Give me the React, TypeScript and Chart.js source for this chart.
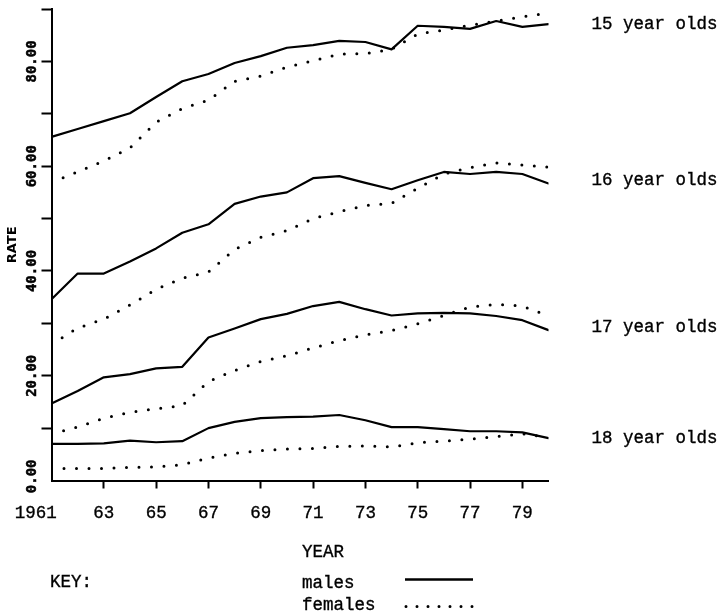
import { useEffect, useRef } from 'react';
import { Chart, registerables } from 'chart.js';

Chart.register(...registerables);

// ---- data ----
const years = [1961, 1962, 1963, 1964, 1965, 1966, 1967, 1968, 1969, 1970, 1971, 1972, 1973, 1974, 1975, 1976, 1977, 1978, 1979, 1980];

const males15 = [65.6, 67.1, 68.6, 70.1, 73.2, 76.2, 77.6, 79.7, 81.0, 82.6, 83.1, 83.9, 83.7, 82.3, 86.8, 86.6, 86.2, 87.7, 86.6, 87.1];
const females15 = [56.9, 58.9, 61.0, 63.5, 68.4, 71.0, 72.6, 76.2, 77.2, 78.9, 80.1, 81.4, 81.5, 82.3, 85.2, 86.0, 86.9, 87.7, 88.5, 89.2];

const males16 = [34.6, 39.5, 39.5, 41.8, 44.3, 47.3, 48.9, 52.8, 54.2, 55.0, 57.7, 58.1, 56.8, 55.6, 57.3, 58.9, 58.5, 58.9, 58.5, 56.7];
const females16 = [26.0, 29.1, 30.8, 33.5, 36.5, 38.6, 39.8, 44.1, 46.4, 47.7, 50.0, 51.3, 52.5, 52.9, 55.8, 58.5, 59.7, 60.6, 60.2, 59.8];

const males17 = [14.7, 17.1, 19.7, 20.3, 21.4, 21.7, 27.3, 29.0, 30.8, 31.8, 33.3, 34.1, 32.7, 31.5, 31.9, 32.0, 31.9, 31.4, 30.6, 28.7];
const females17 = [8.9, 10.2, 11.9, 13.0, 13.7, 14.3, 18.9, 21.0, 22.7, 23.8, 25.3, 26.7, 27.8, 28.6, 29.9, 31.5, 33.1, 33.6, 33.3, 31.4];

const males18 = [7.0, 7.0, 7.1, 7.6, 7.3, 7.5, 10.0, 11.2, 11.9, 12.1, 12.2, 12.5, 11.5, 10.2, 10.2, 9.8, 9.4, 9.4, 9.2, 8.1];
const females18 = [2.3, 2.3, 2.3, 2.5, 2.6, 3.0, 4.3, 5.2, 5.7, 6.0, 6.1, 6.5, 6.6, 6.4, 7.2, 7.5, 7.9, 8.4, 8.9, 8.2];

const xTickValues = [1961, 1963, 1965, 1967, 1969, 1971, 1973, 1975, 1977, 1979];
const xTickLabels = ['1961', '63', '65', '67', '69', '71', '73', '75', '77', '79'];
const yTickValues = [0, 10, 20, 30, 40, 50, 60, 70, 80, 90];
const yTickLabels = ['0.00', '', '20.00', '', '40.00', '', '60.00', '', '80.00', ''];

const ageLabels = ['15 year olds', '16 year olds', '17 year olds', '18 year olds'];
const ageLabelValues = [86.1, 56.4, 28.4, 7.1];
const keyLabels = ['males', 'females'];
const xTitle = 'YEAR';
const yTitle = 'RATE';
const keyTitle = 'KEY:';

const maleSeries = [males15, males16, males17, males18];
const femaleSeries = [females15, females16, females17, females18];

// ---- styles ----
const INK = '#000000';
const NONE = 'rgba(0,0,0,0)';
const TYPE_FONT = '"Liberation Mono", "Courier New", monospace';
const TEXT_STROKE = 0.35;
const maleStyle = { borderColor: INK, borderWidth: 2.2, borderJoinStyle: 'round' as const, borderCapStyle: 'round' as const };
const femaleStyle = { borderColor: INK, borderWidth: 3, borderDash: [0, 12.5], borderCapStyle: 'round' as const };

function toPoints(vals: number[]) {
  return years.map((yr, i) => ({ x: yr, y: vals[i] }));
}

function typeText(ctx: CanvasRenderingContext2D, t: string, x: number, y: number) {
  ctx.fillText(t, x, y);
  ctx.strokeText(t, x, y);
}

const annotate = {
  id: 'annotate',
  afterDraw(chart: any) {
    const { ctx, chartArea, scales } = chart;
    ctx.save();
    ctx.fillStyle = INK;
    ctx.strokeStyle = INK;
    ctx.lineWidth = TEXT_STROKE;
    ctx.font = `17.5px ${TYPE_FONT}`;
    ctx.textAlign = 'left';
    ctx.textBaseline = 'alphabetic';
    ageLabels.forEach((t, i) => {
      typeText(ctx, t, chartArea.right + 43, scales.y.getPixelForValue(ageLabelValues[i]));
    });
    typeText(ctx, xTitle, 302, 557);
    typeText(ctx, keyTitle, 50, 587);
    typeText(ctx, keyLabels[0], 302, 588);
    typeText(ctx, keyLabels[1], 302, 610);

    ctx.lineWidth = 2.5;
    ctx.lineCap = 'butt';
    ctx.beginPath();
    ctx.moveTo(405, 579.5);
    ctx.lineTo(473, 579.5);
    ctx.stroke();

    ctx.lineWidth = 3;
    ctx.lineCap = 'round';
    ctx.setLineDash([0, 11]);
    ctx.beginPath();
    ctx.moveTo(406, 606.5);
    ctx.lineTo(473, 606.5);
    ctx.stroke();
    ctx.restore();
  },
};

export default function App() {
  const ref = useRef<HTMLCanvasElement | null>(null);

  useEffect(() => {
    if (!ref.current) return;
    const datasets: any[] = [];
    maleSeries.forEach((vals, i) => {
      datasets.push({ label: `${ageLabels[i]} ${keyLabels[0]}`, data: toPoints(vals), ...maleStyle, pointRadius: 0, fill: false, tension: 0 });
      datasets.push({ label: `${ageLabels[i]} ${keyLabels[1]}`, data: toPoints(femaleSeries[i]), ...femaleStyle, pointRadius: 0, fill: false, tension: 0 });
    });

    const chart = new Chart(ref.current, {
      type: 'line',
      data: { datasets },
      plugins: [annotate],
      options: {
        animation: false,
        responsive: false,
        devicePixelRatio: 1,
        layout: { padding: { top: 9, right: 179.5, bottom: 0, left: 0 } },
        plugins: { legend: { display: false }, tooltip: { enabled: false }, title: { display: false } },
        scales: {
          x: {
            type: 'linear',
            min: years[0],
            max: years[years.length - 1],
            afterBuildTicks: (s: any) => { s.ticks = xTickValues.map((v) => ({ value: v })); },
            afterFit: (s: any) => { s.height = 135.5; s.paddingLeft = 0; s.paddingRight = 0; },
            border: { display: true, color: INK, width: 2 },
            grid: {
              display: true,
              drawOnChartArea: false,
              drawTicks: true,
              tickLength: 8,
              tickWidth: 2,
              tickColor: (c: any) => (c.tick && c.tick.value === years[0] ? NONE : INK),
            },
            ticks: {
              autoSkip: false,
              minRotation: 0,
              maxRotation: 0,
              padding: 14,
              color: INK,
              textStrokeColor: INK,
              textStrokeWidth: TEXT_STROKE,
              font: { family: TYPE_FONT, size: 17.5 },
              callback: (v: any) => {
                const i = xTickValues.indexOf(Number(v));
                if (i < 0) return '';
                return i === 0 ? xTickLabels[i] + '   ' : xTickLabels[i];
              },
            },
          },
          y: {
            type: 'linear',
            min: 0,
            max: 90,
            afterBuildTicks: (s: any) => { s.ticks = yTickValues.map((v) => ({ value: v })); },
            afterFit: (s: any) => { s.width = 51.5; s.paddingTop = 0; s.paddingBottom = 0; },
            border: { display: true, color: INK, width: 2 },
            grid: {
              display: true,
              drawOnChartArea: false,
              drawTicks: true,
              tickLength: 10,
              tickWidth: 2,
              tickColor: (c: any) => (c.tick && c.tick.value === 0 ? NONE : INK),
            },
            ticks: {
              autoSkip: false,
              minRotation: 90,
              maxRotation: 90,
              crossAlign: 'near',
              labelOffset: -21,
              padding: 9.5,
              color: INK,
              textStrokeColor: INK,
              textStrokeWidth: 0.5,
              font: { family: '"DejaVu Sans Mono", monospace', size: 14, weight: 'bold' },
              callback: (v: any) => {
                const i = yTickValues.indexOf(Number(v));
                return i < 0 ? '' : yTickLabels[i];
              },
            },
            title: {
              display: true,
              text: yTitle,
              color: INK,
              font: { family: '"DejaVu Sans", sans-serif', size: 13, weight: 'bold' },
              padding: { top: 4.7, bottom: 0 },
            },
          },
        },
      } as any,
    });
    return () => chart.destroy();
  }, []);

  return (
    <div style={{ position: 'absolute', left: 0, top: 0, width: 728, height: 616, background: '#fff' }}>
      <canvas ref={ref} width={728} height={616} style={{ display: 'block', width: 728, height: 616 }} />
    </div>
  );
}
